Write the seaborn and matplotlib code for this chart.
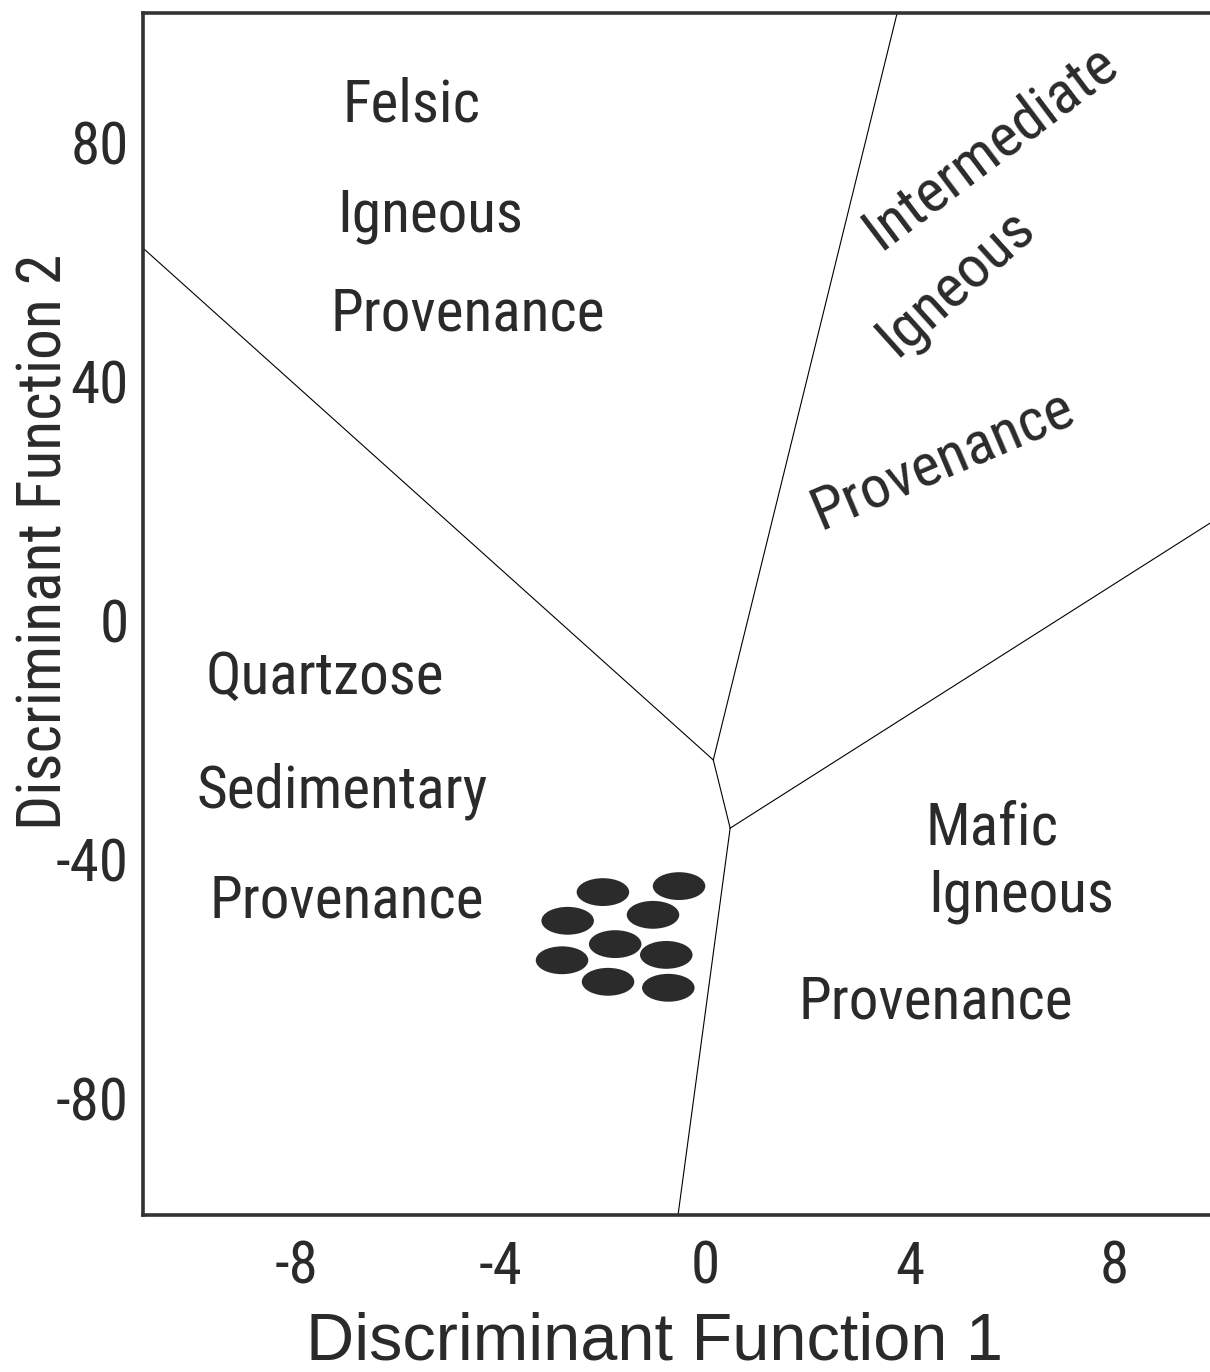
import os
import numpy as np
import pandas as pd
import matplotlib
matplotlib.use("Agg")
import matplotlib.pyplot as plt
import seaborn as sns
from matplotlib import font_manager
from matplotlib.font_manager import FontProperties
from matplotlib.path import Path
from matplotlib.markers import MarkerStyle
from matplotlib.textpath import TextPath

# Sample points (Discriminant Function 1, Discriminant Function 2)
df1_values = [-2.00, -0.51, -2.69, -1.02, -1.76, -2.80, -0.76, -1.90, -0.72]
df2_values = [-45.5, -44.5, -50.3, -49.3, -54.2, -56.9, -56.0, -60.5, -61.5]

# Field boundaries (provenance discriminant diagram)
segment_names = ["felsic_sed", "felsic_sed", "felsic_int", "felsic_int",
                 "junction", "junction", "int_mafic", "int_mafic",
                 "sed_mafic", "sed_mafic"]
boundary_x = [-11.0, 0.16, 0.16, 3.76, 0.16, 0.49, 0.49, 9.88, 0.49, -0.53]
boundary_y = [62.2, -23.4, -23.4, 101.6, -23.4, -34.8, -34.8, 16.2, -34.8, -99.5]

x_ticks = [-10, -8, -6, -4, -2, 0, 2, 4, 6, 8]
x_tick_labels = ["", "-8", "", "-4", "", "0", "", "4", "", "8"]
y_ticks = [-80, -40, 0, 40, 80]
y_tick_labels = ["-80", "-40", "0", "40", "80"]

# Field names: (text, x, y, rotation)
field_labels = [
    ("Felsic", -5.75, 83.3, 0),
    ("Igneous", -5.38, 64.9, 0),
    ("Provenance", -4.64, 48.5, 0),
    ("Quartzose", -7.44, -12.3, 0),
    ("Sedimentary", -7.10, -31.3, 0),
    ("Provenance", -7.01, -49.7, 0),
    ("Mafic", 5.62, -37.6, 0),
    ("Igneous", 6.18, -48.8, 0),
    ("Provenance", 4.52, -66.6, 0),
]
rotated_labels = [
    ("Intermediate", 5.58, 79.1, 37),
    ("Igneous", 4.89, 56.5, 42),
    ("Provenance", 4.64, 26.8, 23),
]

sns.set_style("white")

# pick the narrowest sans available (the original uses a condensed face)
font_files = {os.path.splitext(os.path.basename(f.fname))[0].lower(): f.fname
              for f in font_manager.fontManager.ttflist}


def find_font(stems):
    for s in stems:
        if s.lower() in font_files:
            return FontProperties(fname=font_files[s.lower()])
    return FontProperties(family="Liberation Sans")


def fit_size(text, fp, width_px, cap_px, wt=0.9):
    # size mostly matching ink width, partly cap height
    w = TextPath((0, 0), text, size=100, prop=fp).get_extents().width
    h = TextPath((0, 0), "H", size=100, prop=fp).get_extents().height
    size_w = 100 * width_px * 0.72 / w
    size_h = 100 * cap_px * 0.72 / h
    return float(size_w ** wt * size_h ** (1 - wt))


region_font = find_font(["NotoSans-ExtraCondensed", "LiberationSansNarrow-Regular",
                         "NotoSans-Condensed", "RobotoCondensed-Regular",
                         "NotoSans-SemiCondensed", "DejaVuSansCondensed",
                         "Roboto-Regular"])
axis_font = find_font(["NotoSans-Condensed", "LiberationSansNarrow-Regular",
                       "RobotoCondensed-Regular", "NotoSans-ExtraCondensed",
                       "NotoSans-SemiCondensed", "DejaVuSansCondensed",
                       "Roboto-Regular"])
REGULAR = FontProperties(family="Liberation Sans")

region_size = fit_size("Provenance", region_font, 262, 51)
ylabel_size = fit_size("Discriminant Function 2", axis_font, 560, 50)
tick_size = fit_size("80", axis_font, 50, 44, wt=0.6)

TEXT = "#2a2a2a"
DARK = "#333333"

fig = plt.figure(figsize=(12.1, 13.72), dpi=100)
ax = fig.add_axes([143 / 1210, 1 - 1215 / 1372, 1 - 143 / 1210, 1202.5 / 1372])

bounds = pd.DataFrame({"seg": segment_names, "x": boundary_x, "y": boundary_y})
sns.lineplot(data=bounds, x="x", y="y", units="seg", estimator=None, sort=False,
             color="black", linewidth=0.8, ax=ax, legend=False)

circle = Path.unit_circle()
ellipse = MarkerStyle(Path(circle.vertices * np.array([1.0, 0.53]), circle.codes))
points = pd.DataFrame({"DF1": df1_values, "DF2": df2_values})
sns.scatterplot(data=points, x="DF1", y="DF2", marker=ellipse, s=1430,
                color="#2b2b2b", edgecolor="none", linewidth=0, ax=ax, zorder=3)

for txt, x, y, rot in field_labels:
    ax.text(x, y, txt, ha="center", va="baseline", fontproperties=region_font,
            fontsize=region_size, color=TEXT)
for txt, x, y, rot in rotated_labels:
    ax.text(x, y, txt, ha="center", va="center", rotation=rot,
            rotation_mode="anchor", fontproperties=region_font,
            fontsize=region_size * 1.02, color=TEXT)

ax.set_xlim(-11.0, 9.88)
ax.set_ylim(-99.5, 101.6)
ax.set_xticks(x_ticks)
ax.set_xticklabels(x_tick_labels)
ax.set_yticks(y_ticks)
ax.set_yticklabels(y_tick_labels)

ax.tick_params(axis="x", direction="in", length=25, width=1.0, color=DARK,
               pad=17, labelcolor=TEXT)
ax.tick_params(axis="y", direction="in", length=24, width=0.9, color="#666666",
               pad=10, labelcolor=TEXT)
for lab in ax.get_xticklabels() + ax.get_yticklabels():
    lab.set_fontproperties(axis_font)
    lab.set_fontsize(tick_size)

for side in ["left", "bottom", "top"]:
    ax.spines[side].set_linewidth(2.6)
    ax.spines[side].set_color(DARK)
ax.spines["right"].set_visible(False)

ax.set_xlabel("Discriminant Function 1", fontproperties=REGULAR, fontsize=48,
              color=TEXT)
ax.set_ylabel("Discriminant Function 2", fontproperties=axis_font,
              fontsize=ylabel_size, color=TEXT)
ax.xaxis.set_label_coords((655 - 143) / 1067, (1215 - 1312) / 1202.5)
ax.yaxis.set_label_coords((74 - 143) / 1067, (1215 - 542) / 1202.5)

fig.savefig("out.png", dpi=100, facecolor="white")
